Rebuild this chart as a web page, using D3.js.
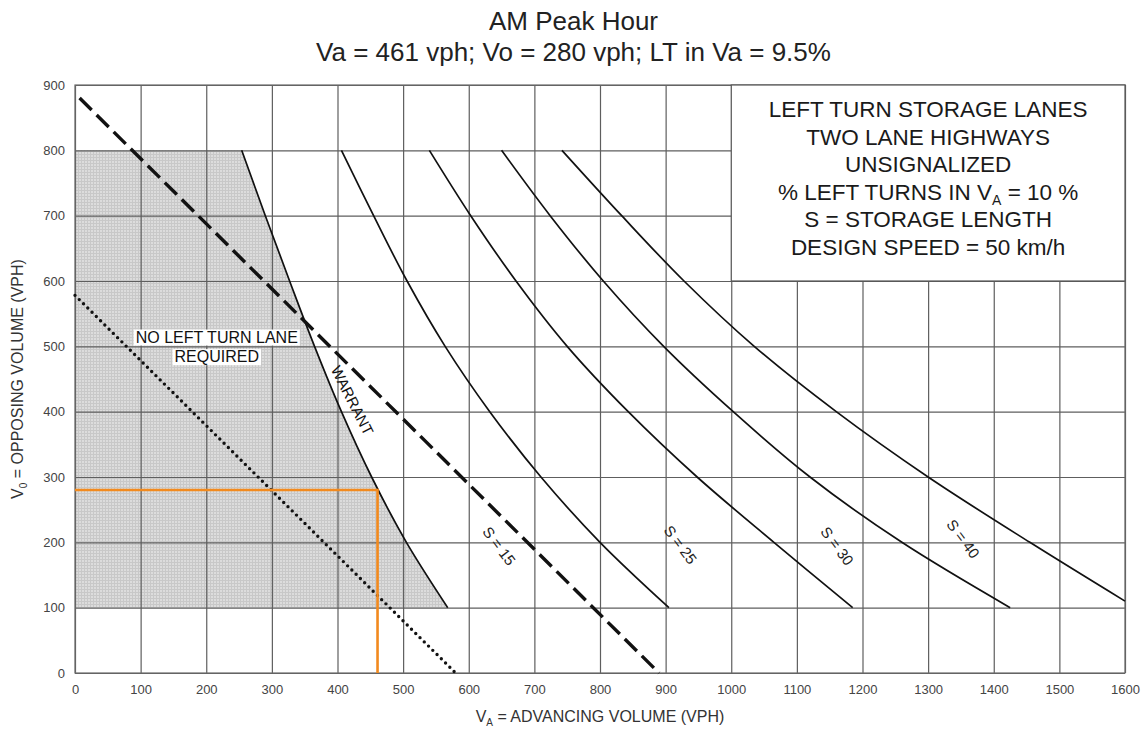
<!DOCTYPE html>
<html>
<head>
<meta charset="utf-8">
<script src="https://cdn.jsdelivr.net/npm/d3@7"></script>
<style>
  body { margin: 0; background: #fff; }
  svg text { font-family: "Liberation Sans", Arial, Helvetica, sans-serif; }
</style>
</head>
<body>
<div class="chart"></div>
<script>
// page + plot frame
const WIDTH = 1147;
const HEIGHT = 730;
const MARGIN = { top: 85, right: 22, bottom: 57, left: 75 };

// chart values
const titleLines = ["AM Peak Hour", "Va = 461 vph; Vo = 280 vph; LT in Va = 9.5%"];
const xTicks = [0, 100, 200, 300, 400, 500, 600, 700, 800, 900, 1000, 1100, 1200, 1300, 1400, 1500, 1600];
const yTicks = [0, 100, 200, 300, 400, 500, 600, 700, 800, 900];

// [advancing, opposing] points
const warrant = [[254, 800], [290, 700], [327, 600], [365, 500], [406, 400], [452, 300], [505, 200], [568, 100]];
const s15 = [[406, 800], [455, 700], [506, 600], [564, 500], [632, 400], [710, 300], [800, 200], [905, 100]];
const s25 = [[540, 800], [603, 700], [672, 600], [750, 500], [843, 400], [948, 300], [1065, 200], [1185, 100]];
const s30 = [[650, 800], [724, 700], [805, 600], [897, 500], [1003, 400], [1120, 300], [1260, 200], [1425, 100]];
const s40 = [[742, 800], [833, 700], [928, 600], [1035, 500], [1160, 400], [1300, 300], [1455, 200], [1600, 110]];
const dashedLine = [[7, 880], [890, 0]];
const dottedLine = [[0, 578], [580, 0]];
const studyVa = 461;
const studyVo = 280;

const storageLabels = ["S = 15", "S = 25", "S = 30", "S = 40"];
const storageLabelAt = [[646, 194], [922, 196], [1161, 194], [1353, 205]];
const legendLines = [
  "LEFT TURN STORAGE LANES",
  "TWO LANE HIGHWAYS",
  "UNSIGNALIZED",
  "% LEFT TURNS IN V|A| = 10 %",
  "S = STORAGE LENGTH",
  "DESIGN SPEED = 50 km/h",
];

const w = WIDTH - MARGIN.left - MARGIN.right;
const h = HEIGHT - MARGIN.top - MARGIN.bottom;

var x = d3.scaleLinear().domain([0, 1600]).range([0, w]);
var y = d3.scaleLinear().domain([0, 900]).range([h, 0]);

var root = d3
  .select(".chart")
  .append("svg")
  .attr("width", WIDTH)
  .attr("height", HEIGHT);

// title
root
  .selectAll(".title")
  .data(titleLines)
  .enter()
  .append("text")
  .attr("class", "title")
  .attr("x", WIDTH / 2)
  .attr("y", (d, i) => 30 + i * 31)
  .attr("text-anchor", "middle")
  .attr("font-size", 26)
  .attr("fill", "#222")
  .text((d) => d);

// stipple pattern for the no-lane area
var defs = root.append("defs");
var pat = defs
  .append("pattern")
  .attr("id", "stipple")
  .attr("width", 3)
  .attr("height", 3)
  .attr("patternUnits", "userSpaceOnUse");
pat.append("rect").attr("width", 3).attr("height", 3).attr("fill", "#dcdcdc");
pat.append("rect").attr("width", 1).attr("height", 3).attr("fill", "#c8c8c8");
pat.append("rect").attr("width", 3).attr("height", 1).attr("fill", "#c8c8c8");

var svg = root
  .append("g")
  .attr("transform", "translate(" + MARGIN.left + "," + MARGIN.top + ")");

// shaded region: left of the warrant curve, between 100 and 800
var shade = [[0, 800]].concat(warrant).concat([[0, 100]]);
svg
  .append("path")
  .datum(shade)
  .attr("d", d3.line().x((d) => x(d[0])).y((d) => y(d[1])))
  .attr("fill", "url(#stipple)");

// grid + tick labels
svg
  .append("g")
  .attr("transform", `translate(0,${h})`)
  .call(d3.axisBottom(x).tickValues(xTicks).tickFormat(d3.format("d")).tickSize(-h).tickPadding(12))
  .call((g) => g.select(".domain").remove())
  .call((g) => g.selectAll(".tick line").attr("stroke", "#5e5e5e").attr("stroke-width", 1.2))
  .call((g) =>
    g.selectAll(".tick text").attr("font-size", 13).attr("fill", "#444")
      .attr("font-family", '"Liberation Sans", Arial, sans-serif')
  );

svg
  .append("g")
  .call(d3.axisLeft(y).tickValues(yTicks).tickFormat(d3.format("d")).tickSize(-w).tickPadding(10))
  .call((g) => g.select(".domain").remove())
  .call((g) => g.selectAll(".tick line").attr("stroke", "#5e5e5e").attr("stroke-width", 1.2))
  .call((g) =>
    g.selectAll(".tick text").attr("font-size", 13).attr("fill", "#444")
      .attr("font-family", '"Liberation Sans", Arial, sans-serif')
  );

// outer frame
svg
  .append("rect")
  .attr("width", w)
  .attr("height", h)
  .attr("fill", "none")
  .attr("stroke", "#6a6a6a")
  .attr("stroke-width", 1.2);

// legend box in the top right corner of the grid
svg
  .append("rect")
  .attr("x", x(1000))
  .attr("y", y(900))
  .attr("width", x(1600) - x(1000))
  .attr("height", y(600) - y(900))
  .attr("fill", "#fff")
  .attr("stroke", "#555")
  .attr("stroke-width", 1.2);

var legendText = svg
  .selectAll(".legend")
  .data(legendLines)
  .enter()
  .append("text")
  .attr("class", "legend")
  .attr("x", x(1300))
  .attr("y", (d, i) => 32 + i * 27.6)
  .attr("text-anchor", "middle")
  .attr("font-size", 22.5)
  .attr("fill", "#1a1a1a");

legendText.each(function (d) {
  var parts = d.split("|");
  var t = d3.select(this);
  t.append("tspan").text(parts[0]);
  if (parts.length > 1) {
    t.append("tspan").attr("font-size", 14).attr("dy", 5).text(parts[1]);
    t.append("tspan").attr("dy", -5).text(parts[2]);
  }
});

var line = d3.line().x((d) => x(d[0])).y((d) => y(d[1]));
var curve = d3.line().x((d) => x(d[0])).y((d) => y(d[1])).curve(d3.curveCatmullRom.alpha(0.5));

// warrant + storage curves
[warrant, s15, s25, s30, s40].forEach(function (pts) {
  svg
    .append("path")
    .datum(pts)
    .attr("d", curve)
    .attr("fill", "none")
    .attr("stroke", "#111")
    .attr("stroke-width", 1.7);
});

// dotted line
svg
  .append("path")
  .datum(dottedLine)
  .attr("d", line)
  .attr("fill", "none")
  .attr("stroke", "#111")
  .attr("stroke-width", 3.4)
  .attr("stroke-linecap", "round")
  .attr("stroke-dasharray", "0,6");

// dashed line
svg
  .append("path")
  .datum(dashedLine)
  .attr("d", line)
  .attr("fill", "none")
  .attr("stroke", "#111")
  .attr("stroke-width", 3.4)
  .attr("stroke-dasharray", "17,7");

// study point in orange
svg
  .append("path")
  .datum([[0, studyVo], [studyVa, studyVo], [studyVa, 0]])
  .attr("d", line)
  .attr("fill", "none")
  .attr("stroke", "#f28a1e")
  .attr("stroke-width", 2.6);

// no left turn lane label with white backing
var noLane = [["NO LEFT TURN LANE", 515], ["REQUIRED", 485]];
noLane.forEach(function (d) {
  var t = svg
    .append("text")
    .attr("x", x(216))
    .attr("y", y(d[1]) + 6)
    .attr("text-anchor", "middle")
    .attr("font-size", 16)
    .attr("fill", "#111")
    .text(d[0]);
  var bb = t.node().getBBox();
  svg
    .insert("rect", function () { return t.node(); })
    .attr("x", bb.x - 2)
    .attr("y", bb.y + 1)
    .attr("width", bb.width + 4)
    .attr("height", bb.height - 1)
    .attr("fill", "#fff");
});

// warrant label along the line
svg
  .append("text")
  .attr("transform", `translate(${x(422)},${y(417)}) rotate(63)`)
  .attr("text-anchor", "middle")
  .attr("dy", 5)
  .attr("font-size", 15)
  .attr("fill", "#111")
  .text("WARRANT");

// storage length labels
svg
  .selectAll(".slabel")
  .data(storageLabels)
  .enter()
  .append("text")
  .attr("class", "slabel")
  .attr("transform", (d, i) =>
    `translate(${x(storageLabelAt[i][0])},${y(storageLabelAt[i][1])}) rotate(53)`)
  .attr("text-anchor", "middle")
  .attr("dy", 5)
  .attr("font-size", 15)
  .attr("fill", "#222")
  .text((d) => d);

// axis titles
var xTitle = root
  .append("text")
  .attr("x", MARGIN.left + w / 2)
  .attr("y", 722)
  .attr("text-anchor", "middle")
  .attr("font-size", 16)
  .attr("fill", "#333");
xTitle.append("tspan").text("V");
xTitle.append("tspan").attr("font-size", 10).attr("dy", 4).text("A");
xTitle.append("tspan").attr("dy", -4).text(" = ADVANCING VOLUME (VPH)");

var yTitle = root
  .append("text")
  .attr("transform", `translate(23,${MARGIN.top + h / 2}) rotate(-90)`)
  .attr("text-anchor", "middle")
  .attr("font-size", 16)
  .attr("fill", "#333");
yTitle.append("tspan").text("V");
yTitle.append("tspan").attr("font-size", 10).attr("dy", 4).text("0");
yTitle.append("tspan").attr("dy", -4).text(" = OPPOSING VOLUME (VPH)");
</script>
</body>
</html>
